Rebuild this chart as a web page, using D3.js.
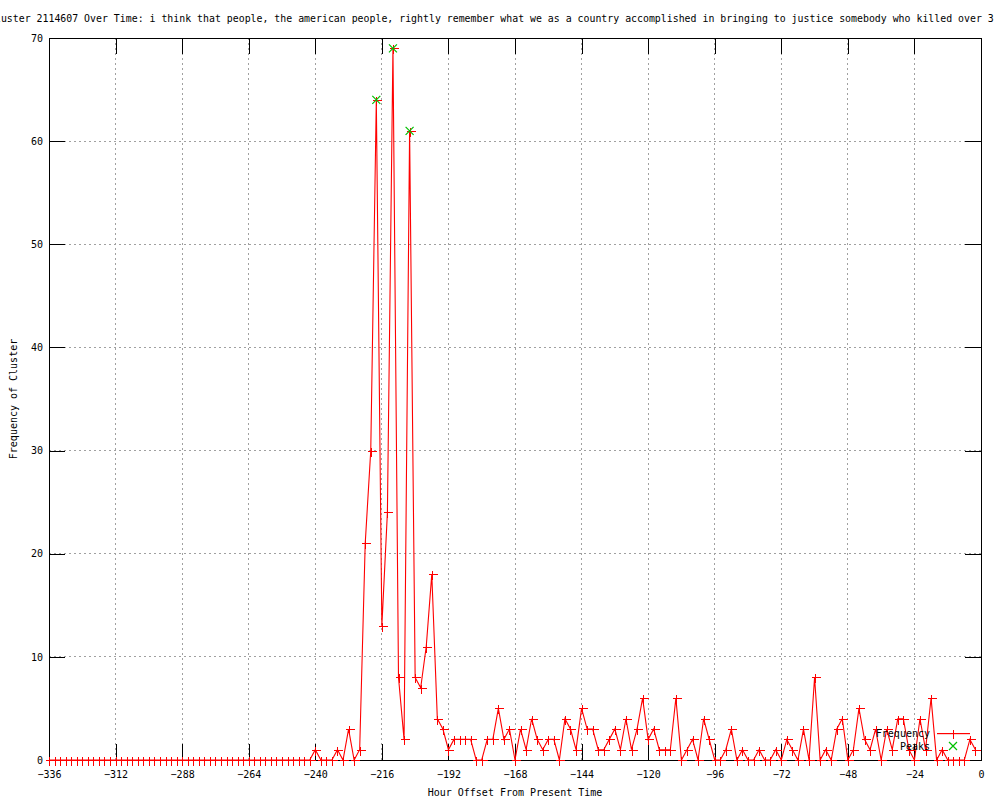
<!DOCTYPE html>
<html>
<head>
<meta charset="utf-8">
<script src="https://cdn.jsdelivr.net/npm/d3@7"></script>
<style>
  body { margin: 0; background: #fff; }
  svg { display: block; font-family: "DejaVu Sans Mono", "Liberation Mono", monospace; font-size: 10px; }
  .grid line { stroke: #a0a0a0; stroke-dasharray: 2,3; shape-rendering: crispEdges; }
  .axis line { stroke: #000; shape-rendering: crispEdges; }
  .axis path { display: none; }
  .axis text { fill: #000; font-size: 10px; font-family: "DejaVu Sans Mono", "Liberation Mono", monospace; }
</style>
</head>
<body>
<svg id="chart" width="1000" height="800"></svg>
<script>
// hourly offsets, one sample every 2 hours from -336 to -2
var hours = d3.range(-336, 0, 2);

// frequency of cluster per sample
var freq = [
  0,0,0,0,0,0,0,0,0,0, 0,0,0,0,0,0,0,0,0,0,
  0,0,0,0,0,0,0,0,0,0, 0,0,0,0,0,0,0,0,0,0,
  0,0,0,0,0,0,0,0,
  1,0,0,0,1,0,3,0,1,21,
  30,64,13,24,69,8,2,61,8,7,
  11,18,4,3,1,2,2,2,2,0,
  0,2,2,5,2,3,0,3,1,4,
  2,1,2,2,0,4,3,1,5,3,
  3,1,1,2,3,1,4,1,3,6,
  2,3,1,1,1,6,0,1,2,0,
  4,2,0,0,1,3,0,1,0,0,
  1,0,0,1,0,2,1,0,3,0,
  8,0,1,0,3,4,0,1,5,2,
  1,3,0,3,1,4,4,1,0,4,
  1,6,0,1,0,0,0,0,2,1
];

var peakHours = [-218, -212, -206];
var peakValues = [64, 69, 61];

var xTicks = [-336, -312, -288, -264, -240, -216, -192, -168, -144, -120, -96, -72, -48, -24, 0];
var yTicks = [0, 10, 20, 30, 40, 50, 60, 70];

var title = "Cluster 2114607 Over Time: i think that people, the american people, rightly remember what we as a country accomplished in bringing to justice somebody who killed over 3";

var margin = {top: 38, right: 19, bottom: 40, left: 49},
    width = 1000 - margin.left - margin.right,
    height = 800 - margin.top - margin.bottom;

var data = [];
for (var i = 0; i < hours.length; i++) {
  data.push({ hour: hours[i], value: freq[i] });
}
var peaks = [];
for (var i = 0; i < peakHours.length; i++) {
  peaks.push({ hour: peakHours[i], value: peakValues[i] });
}

var x = d3.scaleLinear().domain([-336, 0]).range([0, width]);
var y = d3.scaleLinear().domain([0, 70]).range([height, 0]);

var svg = d3.select("#chart")
  .append("g")
    .attr("transform", "translate(" + margin.left + "," + margin.top + ")");

/** grid **/
var grid = svg.append("g").attr("class", "grid");
grid.selectAll(".gx")
  .data(xTicks.slice(1, -1))
  .enter().append("line")
    .attr("x1", function(d) { return x(d); })
    .attr("x2", function(d) { return x(d); })
    .attr("y1", 0)
    .attr("y2", height);
grid.selectAll(".gy")
  .data(yTicks.slice(1, -1))
  .enter().append("line")
    .attr("x1", 0)
    .attr("x2", width)
    .attr("y1", function(d) { return y(d); })
    .attr("y2", function(d) { return y(d); });

/** axes with inward ticks **/
svg.append("g")
    .attr("class", "axis")
    .attr("transform", "translate(0," + height + ")")
    .call(d3.axisBottom(x).tickValues(xTicks).tickSizeInner(-16).tickSizeOuter(0).tickPadding(11));
svg.append("g")
    .attr("class", "axis")
    .call(d3.axisTop(x).tickValues(xTicks).tickSizeInner(-16).tickSizeOuter(0).tickFormat(""));
svg.append("g")
    .attr("class", "axis")
    .call(d3.axisLeft(y).tickValues(yTicks).tickSizeInner(-16).tickSizeOuter(0).tickPadding(6));
svg.append("g")
    .attr("class", "axis")
    .attr("transform", "translate(" + width + ",0)")
    .call(d3.axisRight(y).tickValues(yTicks).tickSizeInner(-16).tickSizeOuter(0).tickFormat(""));

/** frequency line **/
var line = d3.line()
  .x(function(d) { return x(d.hour); })
  .y(function(d) { return y(d.value); });

svg.append("path")
    .datum(data)
    .style("fill", "none")
    .style("stroke", "#ff0000")
    .style("stroke-width", 1.1)
    .attr("d", line);

/** border **/
svg.append("rect")
    .attr("x", 0.5)
    .attr("y", 0.5)
    .attr("width", width)
    .attr("height", height)
    .style("fill", "none")
    .style("stroke", "#000")
    .attr("shape-rendering", "crispEdges");

function plus(sel, cx, cy, color) {
  sel.append("path")
    .attr("d", "M" + (cx - 4) + "," + cy + "H" + (cx + 5) + "M" + cx + "," + (cy - 4) + "V" + (cy + 5))
    .style("stroke", color)
    .style("fill", "none")
    .attr("shape-rendering", "crispEdges");
}
function cross(sel, cx, cy, color) {
  sel.append("path")
    .attr("d", "M" + (cx - 4) + "," + (cy - 4) + "L" + (cx + 4) + "," + (cy + 4) + "M" + (cx - 4) + "," + (cy + 4) + "L" + (cx + 4) + "," + (cy - 4))
    .style("stroke", color)
    .style("stroke-width", 1.2)
    .style("fill", "none");
}

var marks = svg.append("g");
data.forEach(function(d) {
  plus(marks, Math.round(x(d.hour)) + 0.5, Math.round(y(d.value)) + 0.5, "#ff0000");
});
peaks.forEach(function(d) {
  cross(marks, x(d.hour), y(d.value), "#00c000");
});

/** legend **/
var leg = svg.append("g");
leg.append("text")
    .attr("x", 930 - margin.left)
    .attr("y", 733 - margin.top)
    .attr("dy", "0.35em")
    .style("text-anchor", "end")
    .text("Frequency");
leg.append("rect")
    .attr("x", 937 - margin.left)
    .attr("y", 733 - margin.top)
    .attr("width", 33)
    .attr("height", 1.2)
    .style("fill", "#ff0000");
plus(leg, 953.5 - margin.left, 733.5 - margin.top, "#ff0000");
leg.append("text")
    .attr("x", 930 - margin.left)
    .attr("y", 746 - margin.top)
    .attr("dy", "0.35em")
    .style("text-anchor", "end")
    .text("Peaks");
cross(leg, 953 - margin.left, 746 - margin.top, "#00c000");

/** labels **/
var root = d3.select("#chart");
root.append("text")
    .attr("x", -11)
    .attr("y", 22)
    .style("font-size", "9.9px")
    .text(title);

root.append("text")
    .attr("x", margin.left + width / 2)
    .attr("y", 796)
    .style("text-anchor", "middle")
    .text("Hour Offset From Present Time");

root.append("text")
    .attr("transform", "translate(17," + (margin.top + height / 2) + ") rotate(-90)")
    .style("text-anchor", "middle")
    .text("Frequency of Cluster");
</script>
</body>
</html>
